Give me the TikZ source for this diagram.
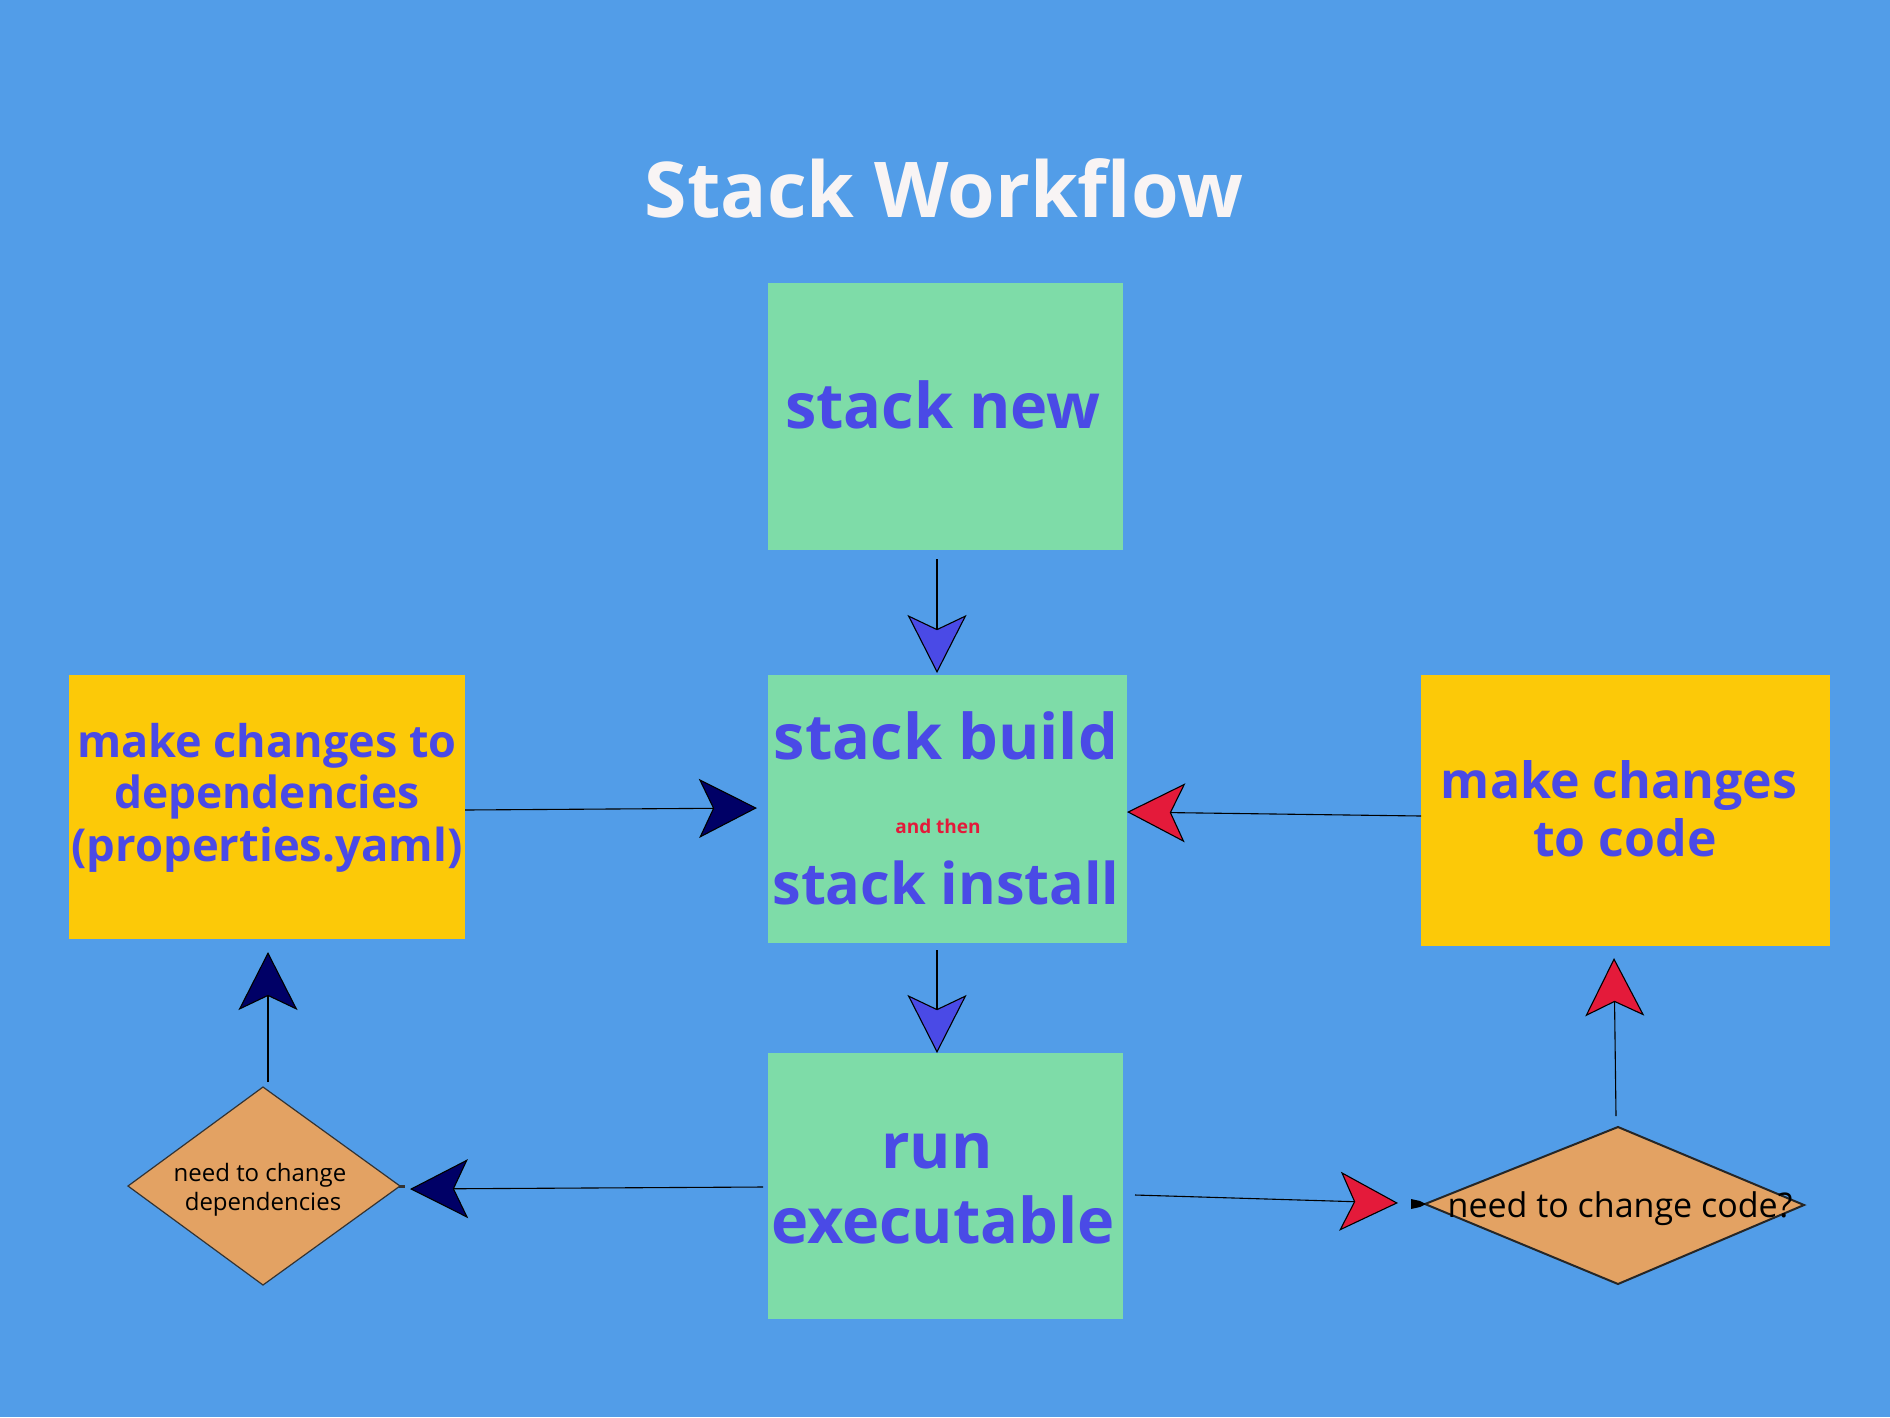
\documentclass[tikz,border=0pt]{standalone}
\usepackage{fontspec}
\setmainfont{Open Sans}
\usetikzlibrary{arrows.meta}
\definecolor{bg}{RGB}{82,157,232}
\definecolor{boxgreen}{RGB}{126,220,168}
\definecolor{boxyellow}{RGB}{252,201,8}
\definecolor{diaorange}{RGB}{227,162,99}
\definecolor{txtblue}{RGB}{74,74,230}
\definecolor{arrred}{RGB}{228,26,58}
\definecolor{arrnavy}{RGB}{0,0,102}
\definecolor{titlewhite}{RGB}{248,244,244}
\newcommand{\fsz}[1]{\fontsize{#1}{#1}\selectfont}
\tikzset{
  gbox/.style={fill=boxgreen, draw=none, inner sep=0pt},
  ybox/.style={fill=boxyellow, draw=none, inner sep=0pt},
  btxt/.style={text=txtblue, font=\bfseries, anchor=base, inner sep=0pt},
  dtxt/.style={text=black, anchor=base, inner sep=0pt},
  conn/.style={draw=black, line width=1.1pt},
  tipblue/.style={conn, -{Stealth[length=58pt,width=59pt,inset=14pt,fill=txtblue]}},
  tipred/.style={conn, -{Stealth[length=58pt,width=59pt,inset=14pt,fill=arrred]}},
  tipnavy/.style={conn, -{Stealth[length=58pt,width=59pt,inset=14pt,fill=arrnavy]}},
}
\begin{document}
\begin{tikzpicture}[x=1pt,y=-1pt]
\fill[bg] (0,0) rectangle (1890,1417);
\useasboundingbox (0,0) rectangle (1890,1417);

% title
\node[text=titlewhite, font=\bfseries\fsz{77}, anchor=base, inner sep=0pt] (title) at (944,217) {Stack Workflow};

% boxes
\path[gbox] (768,283) rectangle (1123,550);
\node[minimum width=355pt, minimum height=267pt, anchor=north west, outer sep=0pt] (new) at (768,283) {};
\path[gbox] (768,675) rectangle (1127,943);
\node[minimum width=359pt, minimum height=268pt, anchor=north west, outer sep=0pt] (build) at (768,675) {};
\path[gbox] (768,1053) rectangle (1123,1319);
\node[minimum width=355pt, minimum height=266pt, anchor=north west, outer sep=0pt] (run) at (768,1053) {};
\path[ybox] (69,675) rectangle (465,939);
\node[minimum width=396pt, minimum height=264pt, anchor=north west, outer sep=0pt] (depbox) at (69,675) {};
\path[ybox] (1421,675) rectangle (1830,946);
\node[minimum width=409pt, minimum height=271pt, anchor=north west, outer sep=0pt] (codebox) at (1421,675) {};

% diamonds
\path[fill=diaorange, draw=black!80, line width=1.2pt] (263,1087) -- (400,1186) -- (263,1285) -- (128,1186) -- cycle;
\fill[black!80] (399,1184.5) rectangle (405,1187.5);
\path[fill=diaorange, draw=black!85, line width=2pt] (1618,1127) -- (1804,1205) -- (1618,1284) -- (1425,1204) -- cycle;
\fill[black] (1411,1199) -- (1420,1201) -- (1426,1204) -- (1420,1207) -- (1411,1209) -- cycle;

% texts
\node[btxt, font=\bfseries\fsz{63}] (tnew) at (943,428) {stack new};
\node[btxt, font=\bfseries\fsz{63}] (tbuild) at (946,759) {stack build};
\node[text=arrred, font=\bfseries\fsz{19}, anchor=base, inner sep=0pt] (tthen) at (938,833) {and then};
\node[btxt, font=\bfseries\fsz{57.5}] (tinstall) at (946,904) {stack install};
\node[btxt, font=\bfseries\fsz{63}] (trun) at (937,1168) {run};
\node[btxt, font=\bfseries\fsz{63}] (texe) at (943,1243) {executable};
\node[btxt, font=\bfseries\fsz{45}] (td1) at (267,757) {make changes to};
\node[btxt, font=\bfseries\fsz{44.3}] (td2) at (267,808) {dependencies};
\node[btxt, font=\bfseries\fsz{45.4}] (td3) at (267,861) {(properties.yaml)};
\node[btxt, font=\bfseries\fsz{50}] (tc1) at (1619,798) {make changes};
\node[btxt, font=\bfseries\fsz{50}] (tc2) at (1625,856) {to code};
\node[dtxt, font=\fsz{24}] (tq1) at (260,1181) {need to change};
\node[dtxt, font=\fsz{24}] (tq2) at (263,1210) {dependencies};
\node[dtxt, font=\fsz{34}] (tq3) at (1620,1217) {need to change code?};

% connectors
\draw[tipblue] ([yshift=-9pt]new.south -| 937,0) -- ([yshift=2pt]build.north -| 937,0);
\draw[tipblue] ([yshift=-7pt]build.south -| 937,0) -- (run.north -| 937,0);
\draw[tipnavy] (depbox.east |- 0,810) -- ([xshift=-11pt]build.west |- 0,808);
\draw[tipred] (codebox.west |- 0,816) -- (build.east |- 0,812);
\draw[tipnavy] ([xshift=-5pt]run.west |- 0,1187) -- (410,1189);
\draw[tipred] ([xshift=12pt]run.east |- 0,1195) -- (1398,1203);
\draw[tipnavy] (268,1082) -- ([yshift=-13pt]depbox.south -| 268,0);
\draw[tipred] (1616,1116) -- ([yshift=-12pt]codebox.south -| 1614,0);
\end{tikzpicture}
\end{document}
